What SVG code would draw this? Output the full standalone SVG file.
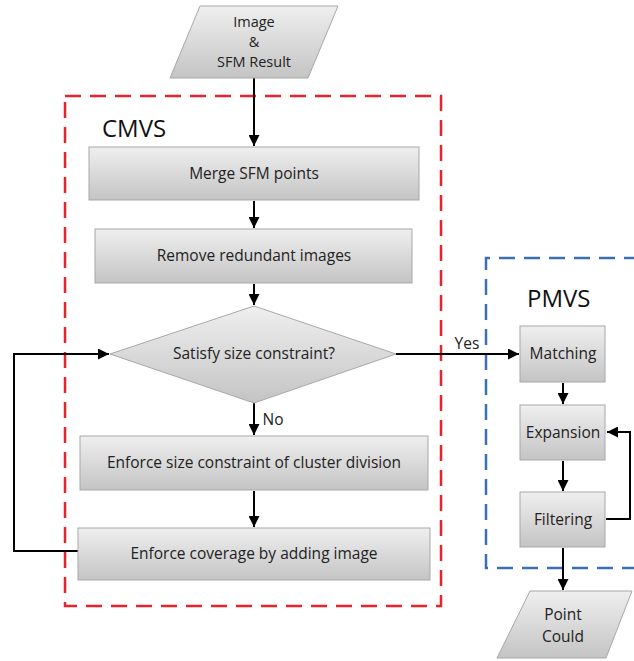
<svg xmlns="http://www.w3.org/2000/svg" width="634" height="661" viewBox="0 0 634 661">
<defs>
<linearGradient id="g" x1="0" y1="0" x2="0" y2="1">
<stop offset="0" stop-color="#efefef"/>
<stop offset="1" stop-color="#c4c4c4"/>
</linearGradient>
<marker id="ah" viewBox="0 0 10 10" refX="10" refY="5" markerWidth="11" markerHeight="11" markerUnits="userSpaceOnUse" orient="auto">
<path d="M0,0 L10,5 L0,10 Z" fill="#000"/>
</marker>
<style>
.n{fill:url(#g);stroke:#a8a8a8;stroke-width:1}
.t{font-family:"Open Sans","DejaVu Sans",sans-serif;font-size:15.5px;fill:#222;text-anchor:middle}
.s{font-size:14.5px}
.h{font-family:"Open Sans","DejaVu Sans",sans-serif;font-size:24px;fill:#111}
.c{fill:none;stroke:#000;stroke-width:2}
.a{marker-end:url(#ah)}
</style>
</defs>
<rect width="634" height="661" fill="#fff"/>
<g id="cmvs">
<rect x="65" y="96" width="376" height="510" fill="none" stroke="#e8232a" stroke-width="2.5" stroke-dasharray="16,9"/>
<text class="h" x="102" y="137">CMVS</text>
</g>
<g id="pmvs">
<path d="M640,258 H486 V568 H640" fill="none" stroke="#3a6fb5" stroke-width="2.5" stroke-dasharray="16,9"/>
<text class="h" x="527" y="307">PMVS</text>
</g>
<g id="connectors">
<path class="c a" d="M254,78 V146"/>
<path class="c a" d="M254,201 V228"/>
<path class="c a" d="M254,284 V305"/>
<path class="c a" d="M396,354 H519"/>
<path class="c a" d="M254,403 V435"/>
<path class="c a" d="M254,491 V527"/>
<path class="c a" d="M79,551 H14 V354 H109"/>
<path class="c a" d="M563,383 V404"/>
<path class="c a" d="M563,461 V491"/>
<path class="c a" d="M606,519 H630 V432 H607"/>
<path class="c a" d="M563,548 V590"/>
<text class="t" x="467" y="349">Yes</text>
<text class="t" x="273" y="425">No</text>
</g>
<g id="input">
<polygon class="n" points="200,6 338,6 308,78 170,78"/>
<text class="t s" x="254" y="27">Image</text>
<text class="t s" x="254" y="47">&amp;</text>
<text class="t s" x="254" y="67">SFM Result</text>
</g>
<g id="merge">
<rect class="n" x="89" y="147" width="330" height="53"/>
<text class="t" x="254" y="179">Merge SFM points</text>
</g>
<g id="remove">
<rect class="n" x="95" y="229" width="317" height="54"/>
<text class="t" x="254" y="261">Remove redundant images</text>
</g>
<g id="satisfy">
<polygon class="n" points="254,306 396,354 254,403 110,354"/>
<text class="t" x="254" y="359">Satisfy size constraint?</text>
</g>
<g id="enforce-size">
<rect class="n" x="80" y="436" width="348" height="54"/>
<text class="t" x="254" y="468">Enforce size constraint of cluster division</text>
</g>
<g id="enforce-coverage">
<rect class="n" x="78" y="528" width="352" height="52"/>
<text class="t" x="254" y="559">Enforce coverage by adding image</text>
</g>
<g id="matching">
<rect class="n" x="520" y="326" width="85" height="56"/>
<text class="t" x="563" y="359">Matching</text>
</g>
<g id="expansion">
<rect class="n" x="520" y="405" width="85" height="55"/>
<text class="t" x="563" y="438">Expansion</text>
</g>
<g id="filtering">
<rect class="n" x="520" y="492" width="85" height="55"/>
<text class="t" x="563" y="525">Filtering</text>
</g>
<g id="output">
<polygon class="n" points="530,591 632,591 606,658 497,658"/>
<text class="t" x="563" y="620">Point</text>
<text class="t" x="563" y="642">Could</text>
</g>
</svg>
